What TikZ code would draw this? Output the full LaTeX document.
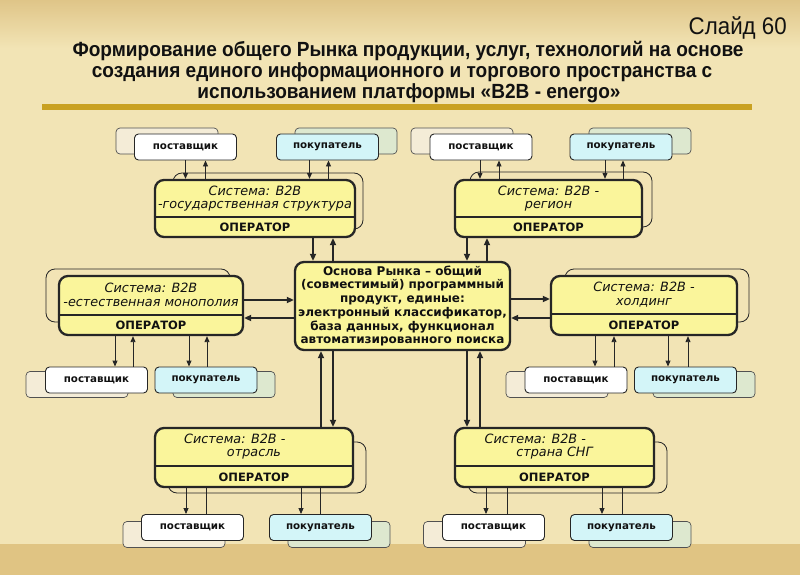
\documentclass[tikz,border=0pt]{standalone}
\usepackage{fontspec}
\setsansfont{DejaVu Sans}
\newfontfamily\narrowfont[FakeStretch=0.93]{Liberation Sans}
\usetikzlibrary{arrows.meta,positioning,calc}
\definecolor{Canvas}{HTML}{F2E4B5}
\definecolor{TopBand}{HTML}{DFC588}
\definecolor{BottomBand}{HTML}{E0C483}
\definecolor{Gold}{HTML}{C9A122}
\definecolor{SysFill}{HTML}{FAF59B}
\definecolor{Buyer}{HTML}{D3F5F8}
\definecolor{BuyerBack}{HTML}{DDE8CF}
\definecolor{SupplierBack}{HTML}{F4ECD7}
\definecolor{Edge}{HTML}{262626}
\definecolor{Text}{HTML}{111111}

\begin{document}
\begin{tikzpicture}[
    x=1pt, y=-1pt,
    font=\sffamily,
    text=Text,
    sysbox/.style={
        draw=Edge,
        line width=2.3pt,
        rounded corners=9pt,
        fill=SysFill
    },
    sysback/.style={
        draw=Edge,
        line width=0.8pt,
        rounded corners=9pt
    },
    centerbox/.style={
        sysbox,
        align=center,
        inner sep=0pt,
        font=\sffamily\bfseries\fontsize{12}{13.7}\selectfont
    },
    systitle/.style={
        align=center,
        inner sep=0pt,
        font=\sffamily\itshape\fontsize{12.8}{13.8}\selectfont
    },
    operator/.style={
        inner sep=0pt,
        font=\sffamily\bfseries\fontsize{11.5}{13}\selectfont
    },
    divider/.style={
        draw=Edge,
        line width=2pt
    },
    titleline/.style={
        anchor=base,
        inner sep=0pt,
        font=\narrowfont\bfseries\fontsize{20.5}{21}\selectfont
    },
    party/.style={
        draw=Edge,
        line width=0.9pt,
        rounded corners=4pt,
        minimum width=102pt,
        minimum height=26pt,
        inner sep=0pt,
        font=\sffamily\bfseries\fontsize{10.3}{12}\selectfont
    },
    supplier/.style={party, fill=white},
    buyer/.style={party, fill=Buyer},
    partyback/.style={
        draw=Edge!80,
        line width=0.7pt,
        rounded corners=4pt,
        minimum width=102pt,
        minimum height=26pt
    },
    thinline/.style={
        line width=0.9pt,
        draw=Edge
    },
    arr/.style={
        thinline,
        -{Triangle[length=6pt,width=5pt]}
    },
    bigarr/.style={
        line width=1.7pt,
        draw=Edge,
        -{Triangle[length=7pt,width=6pt]}
    }
]

% Background
\fill[Canvas] (0,0) rectangle (800,575);
\shade[top color=TopBand, bottom color=Canvas] (0,0) rectangle (800,48);
\fill[BottomBand] (0,544) rectangle (800,575);

% Title
\node[font=\narrowfont\fontsize{24}{26}\selectfont, anchor=base east, inner sep=0pt] (slide) at (787,35) {Слайд 60};

\node[titleline] (title1) at (408,57) {Формирование общего Рынка продукции, услуг, технологий на основе};
\node[titleline] (title2) at (402,78) {создания единого информационного и торгового пространства с};
\node[titleline] (title3) at (409,98.5) {использованием платформы «B2B - energo»};

\fill[Gold] (42,104) rectangle (752,110);

% Top-left group
\node[partyback, fill=SupplierBack] (p1back) at (167,141) {};
\node[partyback, fill=BuyerBack] (b1back) at (346,141) {};
\node[sysback, minimum width=190pt, minimum height=56pt] (s1back) at (268,201) {};
\node[supplier] (p1) at (185.5,147) {поставщик};
\node[buyer] (b1) at (327.5,147) {покупатель};
\node[sysbox, minimum width=200pt, minimum height=57pt] (s1) at (255,208.5) {};
\draw[divider] ([yshift=-38pt]s1.north west) -- ([yshift=-38pt]s1.north east);
\node[systitle] (s1title) at (255,198.5) {Система: B2B\\-государственная структура};
\node[operator] (s1op) at (255,227.5) {ОПЕРАТОР};

\draw[arr] (p1.south) -- (p1.south |- s1.north);
\draw[arr] ([xshift=20pt]p1.south |- s1.north) -- ([xshift=20pt]p1.south);
\draw[arr] ([xshift=-18pt]b1.south) -- ([xshift=-18pt]b1.south |- s1.north);
\draw[arr] ([xshift=1pt]b1.south |- s1.north) -- ([xshift=1pt]b1.south);

% Top-right group
\node[partyback, fill=SupplierBack] (p2back) at (462,141) {};
\node[partyback, fill=BuyerBack] (b2back) at (640,141) {};
\node[sysback, minimum width=182pt, minimum height=55pt] (s2back) at (561,199.5) {};
\node[supplier] (p2) at (481,147) {поставщик};
\node[buyer] (b2) at (621,147) {покупатель};
\node[sysbox, minimum width=187pt, minimum height=57pt] (s2) at (548.5,208.5) {};
\draw[divider] ([yshift=-38pt]s2.north west) -- ([yshift=-38pt]s2.north east);
\node[systitle] (s2title) at (548.5,198.5) {Система: B2B -\\регион};
\node[operator] (s2op) at (548.5,227.5) {ОПЕРАТОР};

\draw[arr] ([xshift=-1pt]p2.south) -- ([xshift=-1pt]p2.south |- s2.north);
\draw[arr] ([xshift=18pt]p2.south |- s2.north) -- ([xshift=18pt]p2.south);
\draw[arr] ([xshift=-16pt]b2.south) -- ([xshift=-16pt]b2.south |- s2.north);
\draw[arr] ([xshift=2pt]b2.south |- s2.north) -- ([xshift=2pt]b2.south);

% Middle-left group
\node[partyback, fill=SupplierBack] (p3back) at (77,384.5) {};
\node[partyback, fill=BuyerBack] (b3back) at (224,384.5) {};
\node[sysback, minimum width=184pt, minimum height=53pt] (s3back) at (138,295.5) {};
\node[supplier] (p3) at (96.5,380) {поставщик};
\node[buyer] (b3) at (206,380) {покупатель};
\node[sysbox, minimum width=184pt, minimum height=59pt] (s3) at (151,305.5) {};
\draw[divider] ([yshift=-40pt]s3.north west) -- ([yshift=-40pt]s3.north east);
\node[systitle] (s3title) at (151,294.5) {Система: B2B\\-естественная монополия};
\node[operator] (s3op) at (151,325.5) {ОПЕРАТОР};

\draw[arr] ([xshift=18.5pt]p3.north |- s3.south) -- ([xshift=18.5pt]p3.north);
\draw[arr] ([xshift=36.5pt]p3.north) -- ([xshift=36.5pt]p3.north |- s3.south);
\draw[arr] ([xshift=-17pt]b3.north |- s3.south) -- ([xshift=-17pt]b3.north);
\draw[arr] ([xshift=1pt]b3.north) -- ([xshift=1pt]b3.north |- s3.south);

% Middle-right group
\node[partyback, fill=SupplierBack] (p4back) at (557,384.5) {};
\node[partyback, fill=BuyerBack] (b4back) at (704,384.5) {};
\node[sysback, minimum width=184pt, minimum height=53pt] (s4back) at (657,295.5) {};
\node[supplier] (p4) at (576,380) {поставщик};
\node[buyer] (b4) at (685.5,380) {покупатель};
\node[sysbox, minimum width=186pt, minimum height=59pt] (s4) at (644,305.5) {};
\draw[divider] ([yshift=-39pt]s4.north west) -- ([yshift=-39pt]s4.north east);
\node[systitle] (s4title) at (644,294.5) {Система: B2B -\\холдинг};
\node[operator] (s4op) at (644,325) {ОПЕРАТОР};

\draw[arr] ([xshift=19pt]p4.north |- s4.south) -- ([xshift=19pt]p4.north);
\draw[arr] ([xshift=38pt]p4.north) -- ([xshift=38pt]p4.north |- s4.south);
\draw[arr] ([xshift=-17.5pt]b4.north |- s4.south) -- ([xshift=-17.5pt]b4.north);
\draw[arr] ([xshift=2.5pt]b4.north) -- ([xshift=2.5pt]b4.north |- s4.south);

% Bottom-left group
\node[partyback, fill=SupplierBack] (p5back) at (174,534.5) {};
\node[partyback, fill=BuyerBack] (b5back) at (339,534.5) {};
\node[sysback, minimum width=198pt, minimum height=51pt] (s5back) at (267,467.5) {};
\node[supplier] (p5) at (192.5,527.5) {поставщик};
\node[buyer] (b5) at (320.5,527.5) {покупатель};
\node[sysbox, minimum width=198pt, minimum height=59pt] (s5) at (254,457.5) {};
\draw[divider] ([yshift=-39pt]s5.north west) -- ([yshift=-39pt]s5.north east);
\node[systitle] (s5title) at (254,446.5) {Система: B2B -\hspace*{3em}\\отрасль};
\node[operator] (s5op) at (254,477) {ОПЕРАТОР};

\draw[arr] ([xshift=-6.5pt]p5.north |- s5.south) -- ([xshift=-6.5pt]p5.north);
\draw[thinline] ([xshift=13.5pt]p5.north) -- ([xshift=13.5pt]p5.north |- s5.south);
\draw[arr] ([xshift=-19.5pt]b5.north |- s5.south) -- ([xshift=-19.5pt]b5.north);
\draw[thinline] ([xshift=-0.5pt]b5.north) -- ([xshift=-0.5pt]b5.north |- s5.south);

% Bottom-right group
\node[partyback, fill=SupplierBack] (p6back) at (474.5,534.5) {};
\node[partyback, fill=BuyerBack] (b6back) at (640,534.5) {};
\node[sysback, minimum width=199pt, minimum height=51pt] (s6back) at (567.5,467.5) {};
\node[supplier] (p6) at (493.5,527.5) {поставщик};
\node[buyer] (b6) at (621.5,527.5) {покупатель};
\node[sysbox, minimum width=199pt, minimum height=59pt] (s6) at (554.5,457.5) {};
\draw[divider] ([yshift=-39pt]s6.north west) -- ([yshift=-39pt]s6.north east);
\node[systitle] (s6title) at (554.5,446.5) {Система: B2B -\hspace*{3em}\\страна СНГ};
\node[operator] (s6op) at (554.5,477) {ОПЕРАТОР};

\draw[arr] ([xshift=-7.5pt]p6.north |- s6.south) -- ([xshift=-7.5pt]p6.north);
\draw[thinline] ([xshift=13.5pt]p6.north) -- ([xshift=13.5pt]p6.north |- s6.south);
\draw[arr] ([xshift=-19.5pt]b6.north |- s6.south) -- ([xshift=-19.5pt]b6.north);
\draw[thinline] ([xshift=0.5pt]b6.north) -- ([xshift=0.5pt]b6.north |- s6.south);

% Market core
\node[centerbox, minimum width=215pt, minimum height=88pt] (core) at (402.5,306)
{Основа Рынка -- общий\\
(совместимый) программный\\
продукт, единые:\\
электронный классификатор,\\
база данных, функционал\\
автоматизированного поиска};

\draw[bigarr] ([xshift=-89.5pt]core.north |- s1.south) -- ([xshift=-89.5pt]core.north);
\draw[bigarr] ([xshift=-69.5pt]core.north) -- ([xshift=-69.5pt]core.north |- s1.south);
\draw[bigarr] ([xshift=64.5pt]core.north |- s2.south) -- ([xshift=64.5pt]core.north);
\draw[bigarr] ([xshift=84.5pt]core.north) -- ([xshift=84.5pt]core.north |- s2.south);

\draw[bigarr] ([yshift=6pt]core.west -| s3.east) -- ([yshift=6pt]core.west);
\draw[bigarr] ([yshift=-12pt]core.west) -- ([yshift=-12pt]core.west -| s3.east);
\draw[bigarr] ([yshift=7pt]core.east) -- ([yshift=7pt]core.east -| s4.west);
\draw[bigarr] ([yshift=-12pt]core.east -| s4.west) -- ([yshift=-12pt]core.east);

\draw[bigarr] ([xshift=-81.5pt]core.south |- s5.north) -- ([xshift=-81.5pt]core.south);
\draw[bigarr] ([xshift=-69.5pt]core.south) -- ([xshift=-69.5pt]core.south |- s5.north);
\draw[bigarr] ([xshift=64.5pt]core.south) -- ([xshift=64.5pt]core.south |- s6.north);
\draw[bigarr] ([xshift=77.5pt]core.south |- s6.north) -- ([xshift=77.5pt]core.south);

\end{tikzpicture}
\end{document}
